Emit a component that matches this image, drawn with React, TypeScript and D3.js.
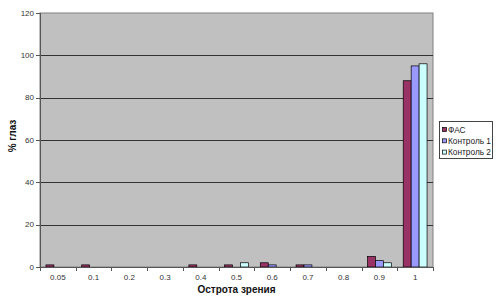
import React from "react";
import * as d3 from "d3";

const categories = ["0.05", "0.1", "0.2", "0.3", "0.4", "0.5", "0.6", "0.7", "0.8", "0.9", "1"];
const seriesNames = ["ФАС", "Контроль 1", "Контроль 2"];
const fas = [1, 1, 0, 0, 1, 1, 2, 1, 0, 5, 88];
const kontrol1 = [0, 0, 0, 0, 0, 0, 1, 1, 0, 3, 95];
const kontrol2 = [0, 0, 0, 0, 0, 2, 0, 0, 0, 2, 96];
const yTicks = [0, 20, 40, 60, 80, 100, 120];
const colors = ["#993366", "#9999FF", "#CCFFFF"];

export default function App() {
  const W = 498, H = 298;
  const left = 40, right = 433, top = 13, bottom = 267;
  const x = d3.scaleBand<string>().domain(categories).range([left, right]).paddingInner(0).paddingOuter(0);
  const y = d3.scaleLinear().domain([0, 120]).range([bottom, top]);
  const bw = x.bandwidth();
  const barW = bw / 4.5;
  const off = barW * 0.75;
  const series = [fas, kontrol1, kontrol2];
  const font = "Arial, 'Liberation Sans', sans-serif";
  return (
    <svg width={W} height={H} style={{ position: "absolute", left: 0, top: 0, background: "#fff" }}>
      <rect x={left} y={top} width={right - left} height={bottom - top} fill="#C0C0C0" stroke="#808080" strokeWidth={1} />
      {yTicks.filter(t => t > 0 && t < 120).map(t => (
        <line key={t} x1={left} x2={right} y1={Math.round(y(t)) + 0.5} y2={Math.round(y(t)) + 0.5} stroke="#333" strokeWidth={1} />
      ))}
      {series.map((vals, si) =>
        vals.map((v, ci) => v > 0 ? (
          <rect key={si + "-" + ci}
            x={(x(categories[ci]) as number) + off + si * barW}
            y={y(v)}
            width={barW}
            height={y(0) - y(v)}
            fill={colors[si]} stroke="#000" strokeWidth={0.7} />
        ) : null)
      )}
      <line x1={left + 0.5} x2={left + 0.5} y1={top} y2={bottom} stroke="#555" />
      <line x1={left} x2={right} y1={bottom + 0.5} y2={bottom + 0.5} stroke="#555" />
      {yTicks.map(t => (
        <g key={t}>
          <line x1={left - 4} x2={left} y1={Math.round(y(t)) + 0.5} y2={Math.round(y(t)) + 0.5} stroke="#555" />
          <text x={left - 6} y={y(t)} dy="0.35em" textAnchor="end" fontSize={8} fontFamily={font} fill="#333">{t}</text>
        </g>
      ))}
      {d3.range(categories.length + 1).map(i => {
        const xx = Math.round(left + i * bw) + 0.5;
        return <line key={i} x1={xx} x2={xx} y1={bottom} y2={bottom + 4} stroke="#555" />;
      })}
      {categories.map(c => (
        <text key={c} x={(x(c) as number) + bw / 2} y={277} dy="0.35em" textAnchor="middle" fontSize={8} fontFamily={font} fill="#333">{c}</text>
      ))}
      <text x={236.5} y={289} dy="0.35em" textAnchor="middle" fontSize={10} fontWeight="bold" fontFamily={font} fill="#111">Острота зрения</text>
      <text transform={`translate(12,136) rotate(-90)`} textAnchor="middle" dy="0.35em" fontSize={10} fontWeight="bold" fontFamily={font} fill="#111">% глаз</text>
      <rect x={439.5} y={121.5} width={53} height={37} fill="#fff" stroke="#444" strokeWidth={1} />
      {seriesNames.map((n, i) => (
        <g key={n}>
          <rect x={442.5} y={127.5 + i * 11.3} width={4} height={4} fill={colors[i]} stroke="#000" strokeWidth={0.7} />
          <text x={448} y={129.7 + i * 11.3} dy="0.35em" fontSize={8.3} fontFamily={font} fill="#222">{n}</text>
        </g>
      ))}
    </svg>
  );
}
